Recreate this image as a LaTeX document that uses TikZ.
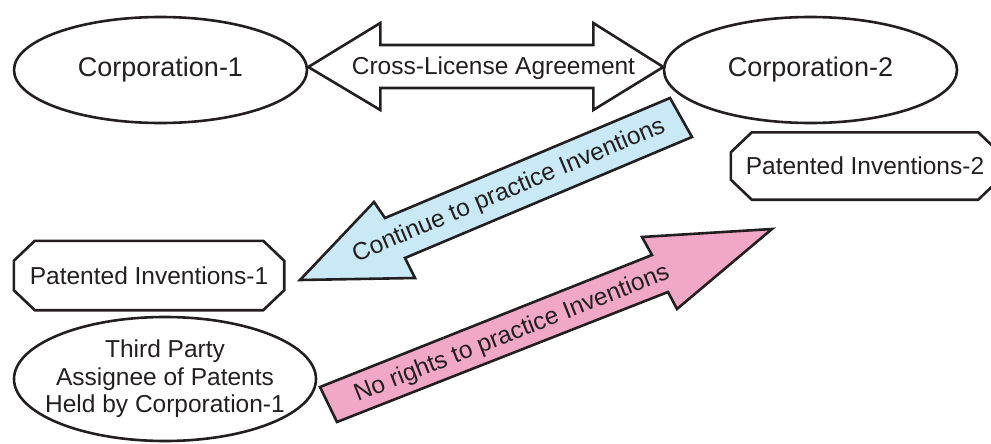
\documentclass[tikz,border=0pt]{standalone}
\usepackage{fontspec}
\setmainfont{Liberation Sans}
\usetikzlibrary{shapes.geometric,calc}
\definecolor{ink}{HTML}{231F20}
\definecolor{licblue}{HTML}{C8E9F5}
\definecolor{nopink}{HTML}{F1A7C6}

\begin{document}
\begin{tikzpicture}[x=1pt,y=-1pt,
  outline/.style={draw=ink,line width=2.6pt,line join=miter},
  txt/.style={text=ink,font=\fontsize{24.5}{27.5}\selectfont,inner sep=0pt,align=center},
  party/.style={outline,ellipse,txt},
  patbox/.style={txt,minimum width=270pt,minimum height=68pt}]

\useasboundingbox (0,0) rectangle (991,444);

% the two corporations
\node[party,font=\fontsize{27}{30}\selectfont,minimum width=293pt,minimum height=106pt]
  (c1) at (160.5,70) {Corporation-1};
\node[party,font=\fontsize{27}{30}\selectfont,minimum width=293pt,minimum height=106pt]
  (c2) at (810.5,70) {Corporation-2};

% third party assignee: outline and its three-line label
\node[party,minimum width=302pt,minimum height=124pt] (tp) at (165,379) {};
\node[txt] (tpl) at (tp.center) {Third Party\\Assignee of Patents\\Held by Corporation-1};

% patent boxes with cut corners
\node[patbox,minimum height=69pt] (p1) at (149,275.5) {Patented Inventions-1};
\node[patbox,minimum width=268pt,minimum height=67pt] (p2) at (865,166) {Patented Inventions-2};
\foreach \b in {p1,p2}{
  \draw[outline]
    ([xshift=21pt]\b.north west) -- ([xshift=-21pt]\b.north east)
    -- ([yshift=-20pt]\b.north east) -- ([yshift=20pt]\b.south east)
    -- ([xshift=-21pt]\b.south east) -- ([xshift=21pt]\b.south west)
    -- ([yshift=20pt]\b.south west) -- ([yshift=-20pt]\b.north west) -- cycle;
}

% cross-license double arrow between the corporations
\draw[outline,fill=white]
  ([yshift=3pt]c1.east) -- ++(72,-44) -- ++(0,22) -- ++(213,0) -- ++(0,-22)
  -- ++(70,44) -- ++(-70,43) -- ++(0,-22) -- ++(-213,0) -- ++(0,22) -- cycle;
\node[txt] (cla) at (493.5,68) {Cross-License Agreement};

% continue to practice (blue arrow)
\draw[outline,fill=licblue]
  (670,98) -- (692,137) -- (405,258) -- (415,278) -- (300,280)
  -- (374,202) -- (385,218) -- cycle;
\node[txt,rotate=22.85] (ctp) at (509,191) {Continue to practice Inventions};

% no rights to practice (pink arrow)
\draw[outline,fill=nopink]
  (320,387) -- (652,255) -- (642,237) -- (772,229) -- (677,309)
  -- (668,292) -- (337,422) -- cycle;
\node[txt,rotate=21.6] (nrp) at (512,334) {No rights to practice Inventions};

\end{tikzpicture}
\end{document}
